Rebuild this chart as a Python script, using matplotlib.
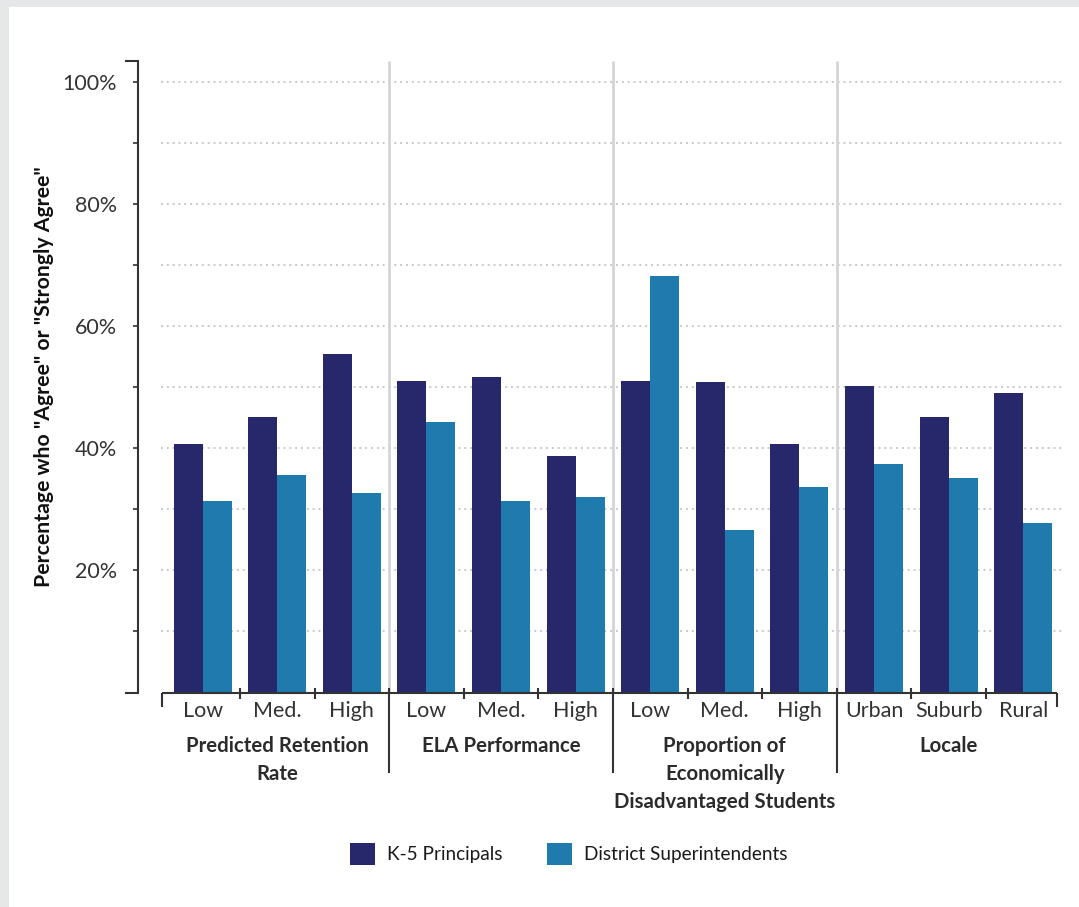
import matplotlib
matplotlib.use("Agg")
import matplotlib.pyplot as plt
from matplotlib.patches import Rectangle, Patch
import numpy as np

# ---- data -------------------------------------------------------------
categories = ["Low", "Med.", "High",
              "Low", "Med.", "High",
              "Low", "Med.", "High",
              "Urban", "Suburb", "Rural"]
group_names = ["Predicted Retention\nRate",
               "ELA Performance",
               "Proportion of\nEconomically\nDisadvantaged Students",
               "Locale"]
series_names = ["K-5 Principals", "District Superintendents"]
principals = [40.7, 45.2, 55.4, 51.0, 51.6, 38.7, 51.1, 50.8, 40.7, 50.2, 45.1, 49.0]
superintendents = [31.3, 35.7, 32.6, 44.3, 31.3, 32.0, 68.2, 26.6, 33.6, 37.4, 35.1, 27.7]
y_major = [20, 40, 60, 80, 100]
y_minor = [10, 30, 50, 70, 90]

# ---- style ------------------------------------------------------------
NAVY = "#27276b"
BLUE = "#1f7bad"
INK = "#333333"
GRID = "#c9c9c9"
SEP = "#d5d5d5"
plt.rcParams['font.family'] = ['Lato', 'DejaVu Sans']

W, H = 1079, 907
fig = plt.figure(figsize=(W / 100, H / 100), dpi=100)
fig.patch.set_facecolor("#e6e7e9")
fig.add_artist(Rectangle((9 / W, 0), 1 - 9 / W, (H - 7) / H,
                         transform=fig.transFigure, facecolor="white",
                         edgecolor="none", zorder=-10))

# plot frame (pixel layout)
ax_left, ax_right, ax_top, ax_bottom = 138, 1070, 61, 692.5
ax = fig.add_axes([ax_left / W, (H - ax_bottom) / H,
                   (ax_right - ax_left) / W, (ax_bottom - ax_top) / H])
ax.set_facecolor("none")

px_per_pct = (692.5 - 82) / 100.0
slot_px = 74.6
x0_px = 202.6


def dx(px):
    return px / slot_px


def dy(px):
    return px / px_per_pct


ytop = dy(ax_bottom - ax_top)
ax.set_ylim(0, ytop)
ax.set_xlim(dx(ax_left - x0_px), dx(ax_right - x0_px))

n = len(categories)
x = np.arange(n)
bw = 0.39
ax.bar(x - bw / 2, principals, bw, color=NAVY, zorder=2, linewidth=0)
ax.bar(x + bw / 2, superintendents, bw, color=BLUE, zorder=2, linewidth=0)

# dotted gridlines
ax.hlines(y_minor + y_major, dx(161 - x0_px), dx(1064 - x0_px), colors=GRID,
          linestyles=(0, (1, 2)), linewidth=1.4, zorder=1)

# group separators
seps = [2.5, 5.5, 8.5]
ax.vlines(seps, 0, ytop, colors=SEP, linewidth=2, zorder=1.5)

# left axis
for s in ["top", "right", "bottom"]:
    ax.spines[s].set_visible(False)
ax.spines["left"].set_color(INK)
ax.spines["left"].set_linewidth(1.5)
ax.set_yticks(y_major, labels=[f"{v}%" for v in y_major])
ax.set_yticks(y_minor, minor=True)
ax.tick_params(axis="y", which="both", length=3.6, width=1.2, color=INK,
               direction="out", pad=11.5, labelsize=15.5, labelcolor=INK)
ax.set_xticks([])
xl = ax.get_xlim()[0]
for yy in (0, ytop):
    ax.plot([xl - dx(13), xl], [yy, yy], color=INK, lw=1.5,
            solid_capstyle="butt", clip_on=False, zorder=4)

# category axis
xa0, xa1 = dx(162 - x0_px), dx(1057 - x0_px)
ax.plot([xa0, xa1], [0, 0], color=INK, lw=1.5, solid_capstyle="butt",
        clip_on=False, zorder=4)
inner = [b + 0.5 for b in range(n - 1) if (b + 0.5) not in seps]
ax.vlines(inner, -dy(6), dy(4.5), colors=INK, lw=1.5, clip_on=False, zorder=4)
ax.vlines(seps, -dy(80), dy(4.5), colors=INK, lw=1.5, clip_on=False, zorder=4)
ax.vlines([xa0, xa1], -dy(14.5), 0, colors=INK, lw=1.5, clip_on=False, zorder=4)

for i, c in enumerate(categories):
    ax.text(i, -dy(717 - 692.5), c, ha="center", va="baseline",
            fontsize=15.5, color=INK, clip_on=False)

for g, name in enumerate(group_names):
    for k, line in enumerate(name.split("\n")):
        ax.text(3 * g + 1, -dy(752 - 692.5 + 28 * k), line, ha="center",
                va="baseline", fontsize=14.7, fontweight="bold",
                color="#2b2b2b", clip_on=False)

ax.set_ylabel('Percentage who "Agree" or "Strongly Agree"', fontsize=15.3,
              fontweight="bold", color="#111111")
ax.yaxis.set_label_coords((44.5 - ax_left) / (ax_right - ax_left), 0.5)
ax.yaxis.label.set_verticalalignment("center")

handles = [Patch(facecolor=NAVY, edgecolor="none"),
           Patch(facecolor=BLUE, edgecolor="none")]
fig.legend(handles, series_names, loc="center",
           bbox_to_anchor=(568.5 / W, (H - 854) / H), ncol=2, frameon=False,
           fontsize=13.7, handlelength=1.31, handleheight=1.47,
           handletextpad=0.63, columnspacing=2.36, borderpad=0,
           labelcolor="#1a1a1a")

fig.savefig("out.png", dpi=100)
